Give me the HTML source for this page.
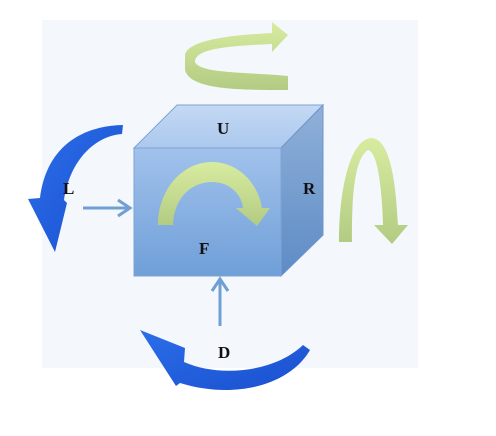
<!DOCTYPE html>
<html><head><style>
html,body{margin:0;padding:0;background:#fff;}
svg{display:block;}
text{font-family:"Liberation Serif",serif;font-weight:bold;font-size:17px;fill:#111;}
</style></head><body>
<svg width="496" height="436" viewBox="0 0 496 436" xmlns="http://www.w3.org/2000/svg">
<defs>
<linearGradient id="front" x1="0" y1="0" x2="0" y2="1"><stop offset="0" stop-color="#a2c2ec"/><stop offset="1" stop-color="#6f9fd8"/></linearGradient>
<linearGradient id="top" x1="0" y1="0" x2="0" y2="1"><stop offset="0" stop-color="#c4d9f4"/><stop offset="1" stop-color="#abc8ee"/></linearGradient>
<linearGradient id="right" x1="0" y1="0" x2="0" y2="1"><stop offset="0" stop-color="#90b0d8"/><stop offset="1" stop-color="#5d8cc6"/></linearGradient>
<linearGradient id="green" x1="0" y1="0" x2="0" y2="1"><stop offset="0" stop-color="#d8eca0"/><stop offset="1" stop-color="#b2cb82"/></linearGradient>
<linearGradient id="blue" x1="0" y1="0" x2="1" y2="1"><stop offset="0" stop-color="#2b6ee8"/><stop offset="1" stop-color="#1a4fd0"/></linearGradient>
</defs>
<rect x="42" y="20" width="376" height="348" fill="#f4f7fc"/>
<polygon points="134,148 177,105 323,105 281,148" fill="url(#top)" stroke="#7fa3d3" stroke-width="1"/>
<polygon points="281,148 323,105 323,235 281,276" fill="url(#right)" stroke="#6f94c8" stroke-width="1"/>
<rect x="134" y="148" width="147" height="128" fill="url(#front)" stroke="#7fa3d3" stroke-width="1"/>
<path d="M288,76 L288,90 C240,90 190,90 185,70 L185,55 C188,40 230,35 272,33 L272,22 L288,35 L272,52 L272,44 C230,46 195,48 195,62 C200,74 250,72 288,76 Z" fill="url(#green)"/>
<path d="M339,242 L352,242 C352,210 352,160 368,150 C378,152 382,190 383,225 L374,225 L392,244 L408,225 L398,225 C396,190 392,140 372,138 C350,138 339,190 339,242 Z" fill="url(#green)"/>
<path d="M158,225 L173,225 C174,197 192,182 212,182 C230,182 242,195 243,208 L236,208 L257,226 L270,208 L262,208 C258,183 238,162 212,162 C182,162 158,190 158,225 Z" fill="url(#green)"/>
<path d="M123,125 L122,134 C95,136 70,160 64,200 L67,203 L55,252 L28,199 L40,198 C46,150 78,126 123,125 Z" fill="url(#blue)"/>
<path d="M140,330 L185,348 L184,362 C220,378 275,372 303,345 L310,350 C290,385 235,400 180,383 L176,386 Z" fill="url(#blue)"/>
<g stroke="#6f9fd3" stroke-width="3" fill="none">
<line x1="83" y1="208" x2="130" y2="208"/>
<polyline points="118,200 130,208 118,216"/>
<line x1="220" y1="326" x2="220" y2="279"/>
<polyline points="212,291 220,279 228,291"/>
</g>
<text x="217" y="134">U</text>
<text x="303" y="194">R</text>
<text x="63" y="194">L</text>
<text x="199" y="254">F</text>
<text x="218" y="358">D</text>
</svg>
</body></html>
